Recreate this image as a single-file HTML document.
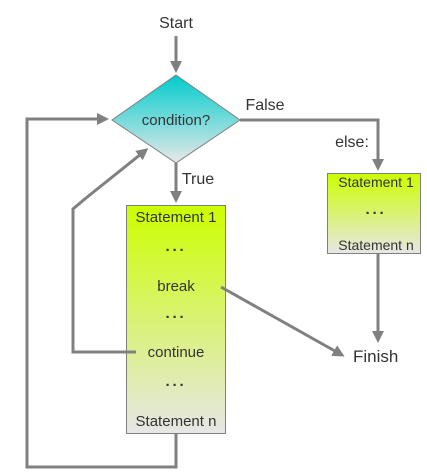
<!DOCTYPE html>
<html><head><style>body{margin:0;background:#fff}</style></head><body>
<svg width="427" height="470" xmlns="http://www.w3.org/2000/svg" font-family="Liberation Sans, sans-serif">
<defs>
<linearGradient id="d" x1="0" y1="0" x2="0" y2="1"><stop offset="0" stop-color="#00cccc"/><stop offset="1" stop-color="#e8e8e8"/></linearGradient>
<linearGradient id="g" x1="0" y1="0" x2="0" y2="1"><stop offset="0" stop-color="#ccff00"/><stop offset="1" stop-color="#e6e6e6"/></linearGradient>
<marker id="a" markerWidth="4" markerHeight="4" refX="3" refY="2" orient="auto" markerUnits="strokeWidth"><path d="M0,0 L4,2 L0,4z" fill="#808080"/></marker>
</defs>
<polygon points="176,75 240,120 176,163 112,120" fill="url(#d)" stroke="#808080" stroke-width="1"/>
<rect x="126.5" y="205.5" width="99" height="228" fill="url(#g)" stroke="#808080"/>
<rect x="327.5" y="173.5" width="93" height="80" fill="url(#g)" stroke="#808080"/>
<g stroke="#808080" stroke-width="3" fill="none">
<line x1="176" y1="36" x2="176" y2="70" marker-end="url(#a)"/>
<line x1="176" y1="163" x2="176" y2="200" marker-end="url(#a)"/>
<polyline points="240,120 378,120 378,168" marker-end="url(#a)"/>
<line x1="378" y1="254" x2="378" y2="340" marker-end="url(#a)"/>
<line x1="221" y1="287" x2="342" y2="355" marker-end="url(#a)"/>
<polyline points="176,434 176,467 27,467 27,119 106,119" marker-end="url(#a)"/>
<polyline points="136,352 73,352 73,209 86,198 146,150" marker-end="url(#a)"/>
</g>
<g fill="#333" font-size="15" text-anchor="middle">
<text x="176" y="28" font-size="16">Start</text>
<text x="176" y="125">condition?</text>
<text x="265" y="110" font-size="16">False</text>
<text x="198" y="184" font-size="16">True</text>
<text x="352" y="147" font-size="16">else:</text>
<text x="376" y="187" font-size="14">Statement 1</text>
<text x="376" y="218" font-weight="bold" letter-spacing="2">···</text>
<text x="376" y="250" font-size="14">Statement n</text>
<text x="176" y="222">Statement 1</text>
<text x="176" y="255" font-weight="bold" letter-spacing="2">···</text>
<text x="176" y="291">break</text>
<text x="176" y="322" font-weight="bold" letter-spacing="2">···</text>
<text x="176" y="357">continue</text>
<text x="176" y="390" font-weight="bold" letter-spacing="2">···</text>
<text x="176" y="426">Statement n</text>
<text x="353" y="362" font-size="17" text-anchor="start">Finish</text>
</g>
</svg>
</body></html>
